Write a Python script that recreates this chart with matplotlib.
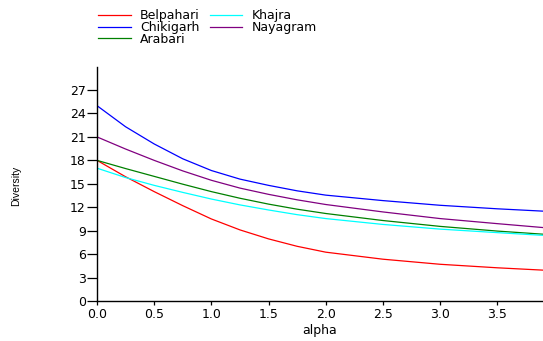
import matplotlib
matplotlib.use("Agg")
import matplotlib.pyplot as plt

# valores (perfiles de diversidad)
alpha = [0, 0.25, 0.5, 0.75, 1.0, 1.25, 1.5, 1.75, 2.0, 2.5, 3.0, 3.5, 3.9]
belpahari = [18.0, 15.9, 14.0, 12.2, 10.5, 9.1, 7.95, 7.0, 6.25, 5.35, 4.7, 4.25, 3.95]
chikigarh = [25.0, 22.3, 20.1, 18.2, 16.7, 15.6, 14.8, 14.1, 13.55, 12.85, 12.25, 11.8, 11.5]
arabari = [18.0, 16.95, 15.95, 14.95, 14.0, 13.15, 12.4, 11.75, 11.2, 10.3, 9.55, 8.95, 8.55]
khajra = [17.0, 15.8, 14.8, 13.9, 13.05, 12.3, 11.65, 11.05, 10.55, 9.8, 9.2, 8.75, 8.4]
nayagram = [21.0, 19.45, 18.0, 16.65, 15.45, 14.45, 13.65, 12.95, 12.35, 11.4, 10.55, 9.9, 9.4]

series = [("Belpahari", belpahari, "#ff0000"),
          ("Chikigarh", chikigarh, "#0000ff"),
          ("Arabari", arabari, "#008000"),
          ("Khajra", khajra, "#00ffff"),
          ("Nayagram", nayagram, "#800080")]

xticks = [0.0, 0.5, 1.0, 1.5, 2.0, 2.5, 3.0, 3.5]
yticks = [0, 3, 6, 9, 12, 15, 18, 21, 24, 27]

plt.rcParams['font.family'] = ['DejaVu Sans']

fig = plt.figure(figsize=(5.43, 3.41), dpi=100)
ax = fig.add_axes([97 / 543, 40 / 341, 446 / 543, 234.4 / 341])

for name, vals, col in series:
    ax.plot(alpha, vals, color=col, lw=0.9, label=name)

ax.set_xlim(0, 3.9)
ax.set_ylim(0, 30)
ax.set_xticks(xticks)
ax.set_xticklabels([f"{t:.1f}" for t in xticks])
ax.set_yticks(yticks)
ax.tick_params(axis='y', length=7, width=0.9, pad=1, labelsize=9)
ax.tick_params(axis='x', length=3, width=0.9, pad=2, labelsize=9)
for s in ['top', 'right']:
    ax.spines[s].set_visible(False)
for s in ['left', 'bottom']:
    ax.spines[s].set_linewidth(1.0)

ax.set_xlabel("alpha", fontsize=9)
ax.set_ylabel("Diversity", fontsize=7.5, family='Liberation Sans')
ax.xaxis.set_label_coords(0.5, -0.1)
ax.yaxis.set_label_coords(-0.17, 0.49)

fig.legend(loc='upper left', bbox_to_anchor=(92 / 543, 1 - 3 / 341), ncol=2,
           frameon=False, fontsize=9, handlelength=2.6, handletextpad=0.75,
           columnspacing=0.8, labelspacing=-0.1, borderpad=0.0)

fig.savefig("out.png", dpi=100)
